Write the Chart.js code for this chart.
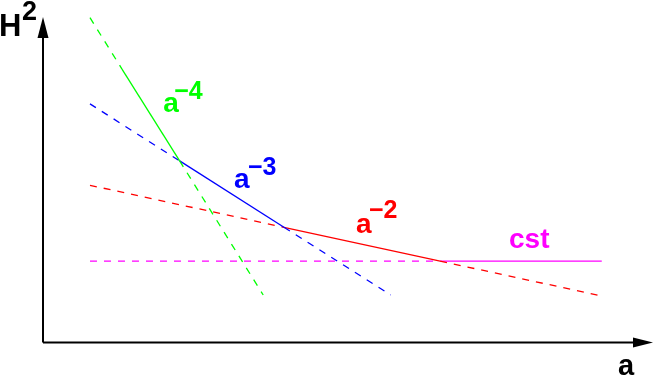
<!DOCTYPE html>
<html>
<head>
<meta charset="utf-8">
<script src="https://cdn.jsdelivr.net/npm/chart.js@4.4.0/dist/chart.umd.min.js"></script>
<style>
  html, body { margin: 0; padding: 0; background: #fff; }
</style>
</head>
<body>
<canvas id="powerChart" width="654" height="376"></canvas>
<script>
// ===================================
//   H^2 vs a — power-law regimes sketch
// ===================================

// Breakpoints of each line (arbitrary units, a on x, H^2 on y)
const greenX = [7.7, 12.95, 22.4, 36.1];
const greenY = [99.8, 84.0, 55.8, 14.6];

const blueX = [7.7, 22.4, 39.5, 57.0];
const blueY = [73.3, 55.8, 35.4, 14.6];

const redX = [7.7, 39.5, 65.1, 91.6];
const redY = [48.3, 35.4, 25.0, 14.3];

const magentaX = [7.7, 65.1, 91.6];
const magentaY = [25.0, 25.0, 25.0];

// which segment of each line is dashed (1) or solid (0)
const greenDash = [1, 0, 1];
const blueDash = [1, 0, 1];
const redDash = [1, 0, 1];
const magentaDash = [1, 0];

const GREEN = '#00ff00';
const BLUE = '#0000ff';
const RED = '#ff0000';
const MAGENTA = '#ff00ff';
const FONT = '"Liberation Sans", Arial, Helvetica, sans-serif';

function points(xs, ys) {
  return xs.map((x, i) => ({ x: x, y: ys[i] }));
}

function lineSet(label, xs, ys, dashes, color) {
  return {
    label: label,
    data: points(xs, ys),
    borderColor: color,
    borderWidth: 1.3,
    pointRadius: 0,
    tension: 0,
    fill: false,
    segment: {
      borderDash: ctx => dashes[ctx.p0DataIndex] ? [7, 7] : []
    }
  };
}

// curve labels, anchored in data units
const curveLabels = [
  { base: 'a', sup: '\u22124', color: GREEN, x: 19.7, y: 70.8, dx: 11, dy: 13 },
  { base: 'a', sup: '\u22123', color: BLUE, x: 31.3, y: 47.5, dx: 14, dy: 13 },
  { base: 'a', sup: '\u22122', color: RED, x: 51.3, y: 33.6, dx: 13, dy: 15 },
  { base: 'cst', sup: '', color: MAGENTA, x: 76.4, y: 29.0, dx: 0, dy: 0 }
];

const axesPlugin = {
  id: 'axesPlugin',
  beforeDatasetsDraw(chart) {
    const ctx = chart.ctx;
    const area = chart.chartArea;
    const x0 = area.left, y0 = area.bottom;
    ctx.save();
    ctx.strokeStyle = '#000';
    ctx.fillStyle = '#000';
    ctx.lineWidth = 2;
    // y axis
    ctx.beginPath();
    ctx.moveTo(x0, y0);
    ctx.lineTo(x0, area.top + 18);
    ctx.stroke();
    ctx.beginPath();
    ctx.moveTo(x0, area.top);
    ctx.lineTo(x0 - 5.5, area.top + 21);
    ctx.lineTo(x0 + 5.5, area.top + 21);
    ctx.closePath();
    ctx.fill();
    // x axis
    ctx.beginPath();
    ctx.moveTo(x0, y0);
    ctx.lineTo(area.right - 18, y0);
    ctx.stroke();
    ctx.beginPath();
    ctx.moveTo(area.right, y0);
    ctx.lineTo(area.right - 20, y0 - 5);
    ctx.lineTo(area.right - 20, y0 + 5);
    ctx.closePath();
    ctx.fill();

    // axis titles
    ctx.textBaseline = 'alphabetic';
    ctx.textAlign = 'left';
    ctx.font = 'bold 31px ' + FONT;
    ctx.fillText('H', -1, 36);
    ctx.font = 'bold 27px ' + FONT;
    ctx.fillText('2', 22, 20);
    ctx.font = 'bold 29px ' + FONT;
    ctx.fillText('a', 618, 375);
    ctx.restore();
  },
  afterDatasetsDraw(chart) {
    const ctx = chart.ctx;
    const sx = chart.scales.x, sy = chart.scales.y;
    ctx.save();
    ctx.textBaseline = 'alphabetic';
    ctx.textAlign = 'left';
    curveLabels.forEach(l => {
      const px = sx.getPixelForValue(l.x);
      const py = sy.getPixelForValue(l.y);
      ctx.fillStyle = l.color;
      ctx.font = 'bold 28px ' + FONT;
      ctx.fillText(l.base, px, py);
      if (l.sup) {
        ctx.font = 'bold 25px ' + FONT;
        ctx.fillText(l.sup, px + l.dx, py - l.dy);
      }
    });
    ctx.restore();
  }
};

new Chart(document.getElementById('powerChart'), {
  type: 'line',
  data: {
    datasets: [
      lineSet('a^-4', greenX, greenY, greenDash, GREEN),
      lineSet('a^-3', blueX, blueY, blueDash, BLUE),
      lineSet('a^-2', redX, redY, redDash, RED),
      lineSet('cst', magentaX, magentaY, magentaDash, MAGENTA)
    ]
  },
  options: {
    responsive: false,
    animation: false,
    clip: false,
    layout: { padding: { left: 43, right: 1, top: 17, bottom: 33.5 } },
    plugins: {
      legend: { display: false },
      tooltip: { enabled: false }
    },
    scales: {
      x: { type: 'linear', min: 0, max: 100, display: false },
      y: { type: 'linear', min: 0, max: 100, display: false }
    }
  },
  plugins: [axesPlugin]
});
</script>
</body>
</html>
